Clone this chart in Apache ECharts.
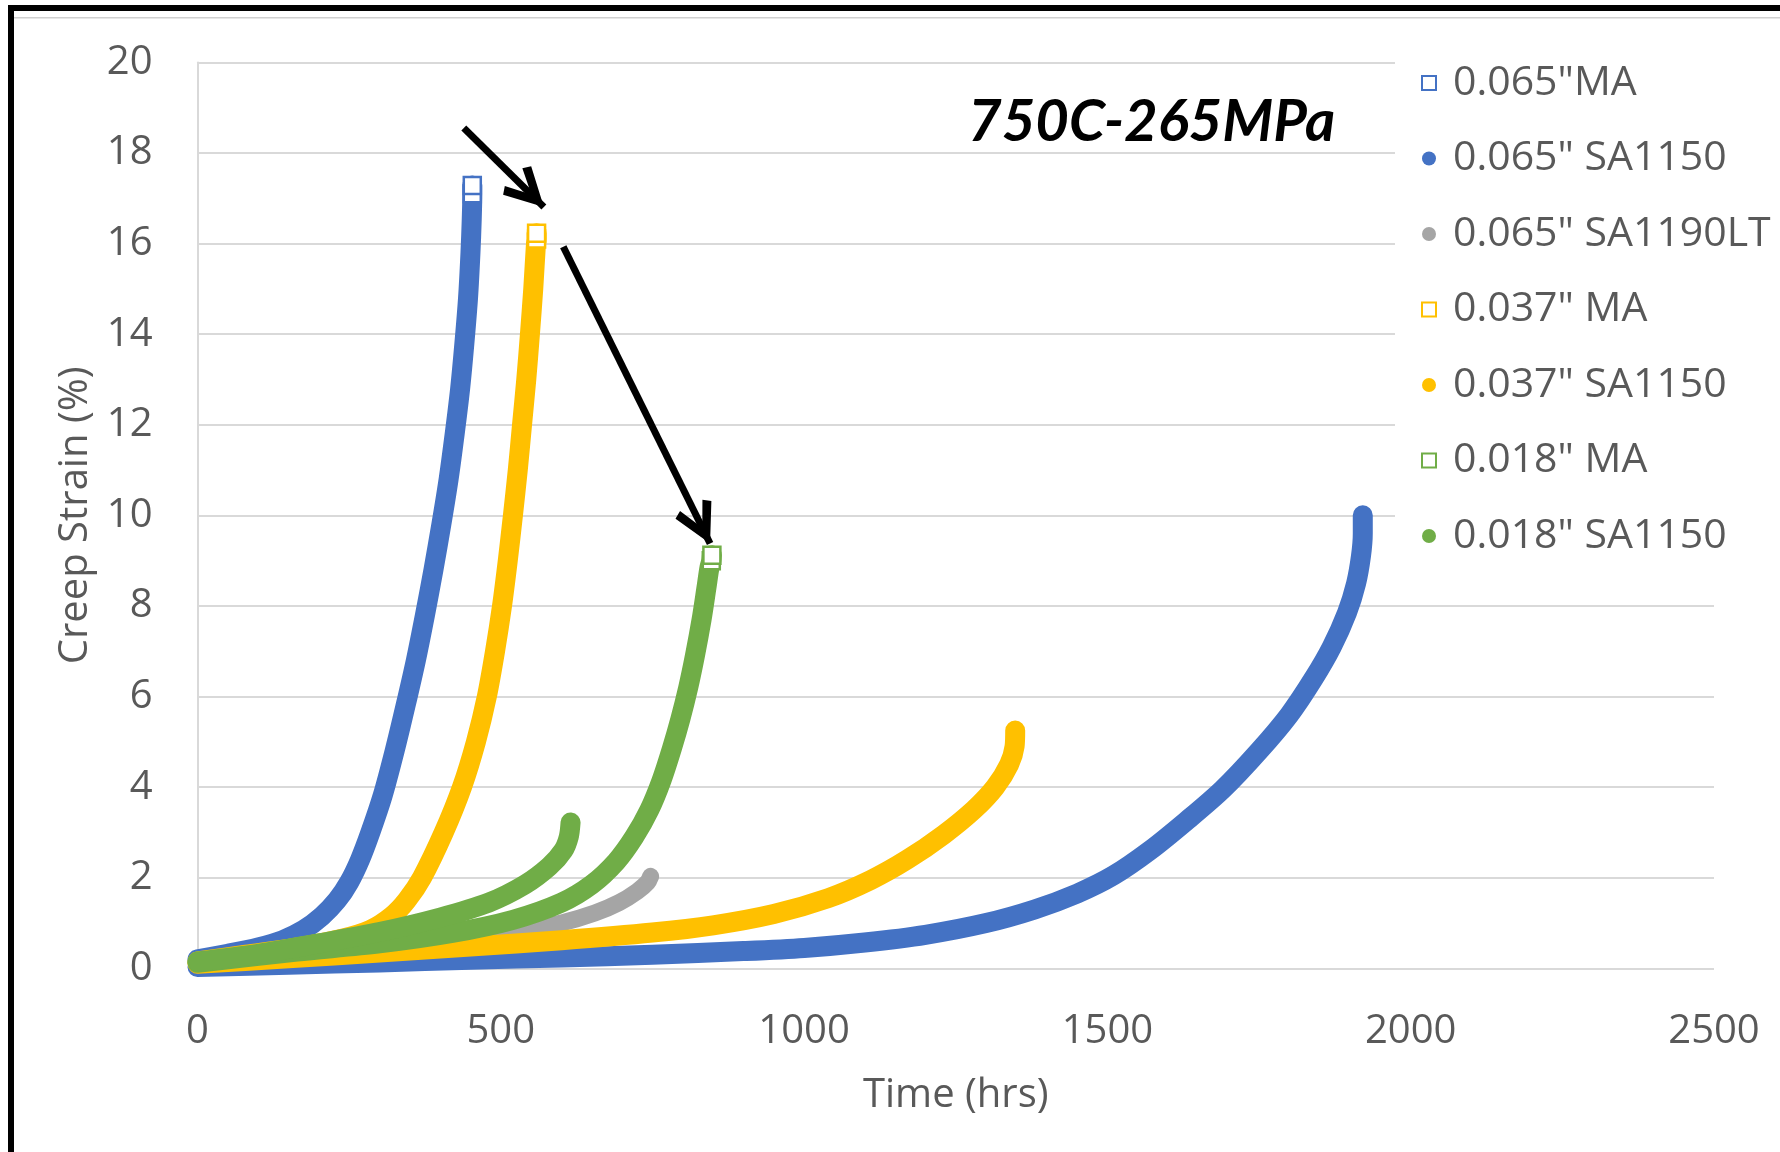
<!DOCTYPE html>
<html>
<head>
<meta charset="utf-8">
<script src="https://cdn.jsdelivr.net/npm/echarts/dist/echarts.min.js"></script>
<style>
html,body{margin:0;padding:0;background:#fff;}
#chart{width:1780px;height:1152px;}
</style>
</head>
<body>
<div id="chart"></div>
<script>
// ---- data ----
const chartTitle = '750C-265MPa';
const xTitle = 'Time (hrs)';
const yTitle = 'Creep Strain (%)';
const xTicks = {min: 0, max: 2500, interval: 500};
const yTicks = {min: 0, max: 20, interval: 2};

const seriesNames = ['0.065"MA', '0.065" SA1150', '0.065" SA1190LT', '0.037" MA', '0.037" SA1150', '0.018" MA', '0.018" SA1150'];
const seriesColors = ['#4472C4', '#4472C4', '#A5A5A5', '#FFC000', '#FFC000', '#70AD47', '#70AD47'];
const seriesIsMA = [true, false, false, true, false, true, false];

const ma065 = [[0,0.2],[50,0.32],[100,0.46],[140,0.62],[175,0.85],[205,1.15],[230,1.5],[250,1.9],[268,2.4],[285,3.0],[305,3.8],[325,4.8],[343,5.8],[360,6.8],[375,7.8],[389,8.8],[402,9.8],[414,10.8],[424,11.8],[433,12.8],[440,13.8],[446,14.8],[450,15.8],[452,16.5],[453,17.1],[453,17.28]];
const sa1150_065 = [[0,0.03],[150,0.08],[300,0.13],[450,0.19],[600,0.24],[750,0.3],[900,0.38],[1000,0.45],[1100,0.57],[1200,0.74],[1300,1.0],[1380,1.3],[1450,1.65],[1510,2.05],[1570,2.6],[1630,3.25],[1690,3.95],[1750,4.8],[1800,5.6],[1840,6.4],[1870,7.1],[1895,7.85],[1910,8.5],[1918,9.1],[1921,9.6],[1921,10.0]];
const sa1190lt_065 = [[0,0.1],[150,0.25],[300,0.42],[420,0.58],[520,0.78],[600,1.0],[655,1.22],[695,1.45],[725,1.7],[742,1.9],[747,2.03]];
const ma037 = [[0,0.15],[80,0.3],[160,0.45],[240,0.66],[285,0.85],[320,1.15],[345,1.5],[370,2.0],[406,3.0],[436,4.0],[459,5.0],[477,6.0],[490.5,7.0],[502,8.0],[511.5,9.0],[520,10.0],[528,11.0],[535,12.0],[542,13.0],[548,14.0],[553.5,15.0],[558,16.0],[559,16.1],[559,16.23]];
const sa1150_037 = [[0,0.1],[150,0.22],[300,0.35],[450,0.48],[600,0.62],[750,0.79],[850,0.95],[950,1.2],[1040,1.55],[1110,1.95],[1170,2.4],[1230,2.95],[1280,3.5],[1315,4.0],[1338,4.5],[1347,4.9],[1348,5.25]];
const ma018 = [[0,0.12],[164,0.37],[300,0.55],[420,0.78],[520,1.07],[600,1.45],[650,1.85],[690,2.35],[720,2.9],[745,3.5],[765,4.15],[782,4.85],[796,5.5],[809,6.2],[820,6.9],[831,7.7],[839,8.4],[844,8.85],[847,9.0],[848,9.12]];
const sa1150_018 = [[0,0.15],[100,0.32],[200,0.55],[300,0.8],[400,1.12],[480,1.45],[540,1.85],[580,2.25],[603,2.6],[612,2.9],[615,3.22]];

const seriesData = [ma065, sa1150_065, sa1190lt_065, ma037, sa1150_037, ma018, sa1150_018];

// annotation arrows (data coordinates: tail -> head)
const arrows = [
  [[439, 18.55], [571, 16.81]],
  [[603, 15.93], [845, 9.38]]
];

// ---- build option ----
const FONT = '"Open Sans", "DejaVu Sans", sans-serif';
const TXT = '#595959';
// chevron arrow-head, tip centred in its bounding box (tiny dot at the far side balances it)
const chevron = 'path://M0,-4 L16,26 L10,30 L0,10 L-10,30 L-16,26 Z M0,-38 L0.01,-38 L0,-37.99 Z';

const series = seriesData.map((pts, i) => {
  const c = seriesColors[i];
  const n = pts.length;
  const data = pts.map((p, k) => {
    if (seriesIsMA[i] && k >= n - 2) {
      return {value: p, symbol: 'rect', symbolSize: 17,
              itemStyle: {color: '#fff', borderColor: c, borderWidth: 2.5}};
    }
    return p;
  });
  return {
    name: seriesNames[i],
    type: 'line',
    data: data,
    symbol: 'none',
    smooth: 0.3,
    silent: true,
    itemStyle: {color: c},
    lineStyle: {color: c, width: i === 2 ? 17 : 20, cap: 'round', join: 'round'},
    z: 2 + i * 0.01
  };
});

series.push({
  name: 'arrows',
  type: 'line',
  data: [],
  silent: true,
  markLine: {
    silent: true,
    symbol: ['none', chevron],
    symbolSize: [40, 85],
    label: {show: false},
    lineStyle: {color: '#000', width: 7, type: 'solid'},
    itemStyle: {color: '#000'},
    emphasis: {disabled: true},
    data: arrows.map(a => [{coord: a[0]}, {coord: a[1]}])
  },
  z: 5
});

const legendData = seriesNames.map((nm, i) => seriesIsMA[i]
  ? {name: nm, icon: 'rect', itemStyle: {color: '#fff', borderColor: seriesColors[i], borderWidth: 2}}
  : {name: nm, icon: 'circle', itemStyle: {color: seriesColors[i]}});

const option = {
  animation: false,
  backgroundColor: '#fff',
  title: {
    text: chartTitle,
    left: 963, top: 86,
    textStyle: {fontFamily: 'Lato, "Open Sans", sans-serif', fontSize: 58, fontWeight: 'bold', fontStyle: 'italic', color: '#000', lineHeight: 62}
  },
  grid: {left: 197.5, right: 66, top: 62.4, bottom: 183.7},
  legend: {
    orient: 'vertical',
    left: 1395, top: 43,
    padding: [18, 20, 15, 26],
    backgroundColor: '#fff',
    itemWidth: 14, itemHeight: 14,
    itemGap: 31.5,
    selectedMode: false,
    textStyle: {fontFamily: FONT, fontSize: 41, color: TXT, lineHeight: 44, padding: [0, 0, 0, 12]},
    data: legendData
  },
  xAxis: {
    type: 'value', min: xTicks.min, max: xTicks.max, interval: xTicks.interval,
    axisLine: {show: false}, axisTick: {show: false}, splitLine: {show: false},
    axisLabel: {fontFamily: FONT, fontSize: 40, color: TXT, margin: 43, formatter: v => String(v)},
    name: xTitle, nameLocation: 'middle', nameGap: 107,
    nameTextStyle: {fontFamily: FONT, fontSize: 40, color: TXT}
  },
  yAxis: {
    type: 'value', min: yTicks.min, max: yTicks.max, interval: yTicks.interval,
    axisLine: {show: true, lineStyle: {color: '#D9D9D9', width: 2}},
    axisTick: {show: false},
    splitLine: {show: true, lineStyle: {color: '#D9D9D9', width: 2}},
    axisLabel: {fontFamily: FONT, fontSize: 40, color: TXT, margin: 45, formatter: v => String(v)},
    name: yTitle, nameLocation: 'middle', nameGap: 100, nameRotate: 90,
    nameTextStyle: {fontFamily: FONT, fontSize: 40, color: TXT}
  },
  graphic: [
    {type: 'rect', shape: {x: 8, y: 5, width: 1772, height: 6}, style: {fill: '#000'}, z: 10, silent: true},
    {type: 'rect', shape: {x: 8, y: 5, width: 6, height: 1147}, style: {fill: '#000'}, z: 10, silent: true},
    {type: 'rect', shape: {x: 14, y: 17, width: 1766, height: 1.5}, style: {fill: '#D0D0D0'}, z: 10, silent: true}
  ],
  series: series
};

const chart = echarts.init(document.getElementById('chart'), null, {renderer: 'canvas'});
chart.setOption(option);
</script>
</body>
</html>
